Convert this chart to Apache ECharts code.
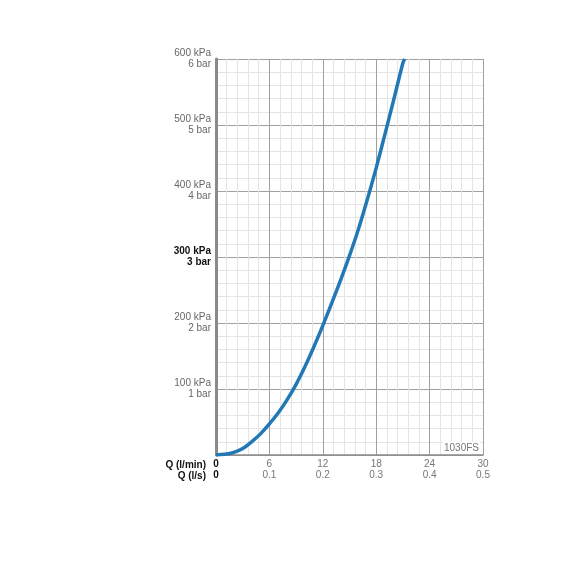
<!DOCTYPE html>
<html>
<head>
<meta charset="utf-8">
<script src="https://cdn.jsdelivr.net/npm/echarts@6/dist/echarts.min.js"></script>
<style>
  html, body { margin: 0; padding: 0; background: #fff; }
  #main { width: 575px; height: 575px; }
</style>
</head>
<body>
<div id="main"></div>
<script>
  // flow rate Q (l/min) vs pressure (kPa)
  var flowLmin = [0, 1, 2, 3, 4, 5, 6, 7, 8, 9, 10, 11, 12, 13, 14, 15, 16, 17, 18, 19, 20, 21, 21.2]
  var pressureKpa = [0, 1, 4, 10, 20, 32, 47, 64, 84, 107, 134, 164, 196, 230, 265, 302, 342, 387, 435, 487, 540, 594, 600]
  var xTicks = [0, 6, 12, 18, 24, 30]
  var xTicksLs = ['0', '0.1', '0.2', '0.3', '0.4', '0.5']
  var yTicks = [100, 200, 300, 400, 500, 600]
  var modelName = '1030FS'

  var font = 'Liberation Sans, Arial, sans-serif'
  var chart = echarts.init(document.getElementById('main'))

  var option = {
    animation: false,
    textStyle: { fontFamily: font },
    grid: { left: 216, right: 92, top: 59, bottom: 120 },
    xAxis: {
      type: 'value',
      min: 0,
      max: 30,
      interval: 6,
      axisLine: { show: true, lineStyle: { color: '#8a8a8a', width: 1.5 } },
      axisTick: { show: false },
      splitLine: { show: true, lineStyle: { color: '#a0a0a0', width: 1 } },
      minorTick: { show: false, splitNumber: 5 },
      minorSplitLine: { show: true, lineStyle: { color: '#e4e4e4', width: 1 } },
      axisLabel: {
        margin: 4,
        fontSize: 10,
        lineHeight: 11,
        color: '#777',
        formatter: function (v) {
          var i = xTicks.indexOf(v)
          if (i < 0) return ''
          if (v === 0) return '{b|0}\n{b|0}'
          return xTicks[i] + '\n' + xTicksLs[i]
        },
        rich: {
          b: { fontWeight: 'bold', color: '#111', fontSize: 10, lineHeight: 11 }
        }
      }
    },
    yAxis: {
      type: 'value',
      min: 0,
      max: 600,
      interval: 100,
      axisLine: { show: true, lineStyle: { color: '#8a8a8a', width: 3 } },
      axisTick: { show: false },
      splitLine: { show: true, lineStyle: { color: '#a0a0a0', width: 1 } },
      minorTick: { show: false, splitNumber: 5 },
      minorSplitLine: { show: true, lineStyle: { color: '#e4e4e4', width: 1 } },
      axisLabel: {
        margin: 5,
        fontSize: 10,
        lineHeight: 11,
        color: '#666',
        align: 'right',
        formatter: function (v) {
          if (yTicks.indexOf(v) < 0) return ''
          if (v === 300) return '{b|300 kPa}\n{b|3 bar}'
          return v + ' kPa\n' + (v / 100) + ' bar'
        },
        rich: {
          b: { fontWeight: 'bold', color: '#111', fontSize: 10, lineHeight: 11 }
        }
      }
    },
    graphic: [
      {
        type: 'text',
        right: 369,
        top: 460,
        style: { text: 'Q (l/min)', font: 'bold 10px ' + font, fill: '#111', textAlign: 'right' }
      },
      {
        type: 'text',
        right: 369,
        top: 471,
        style: { text: 'Q (l/s)', font: 'bold 10px ' + font, fill: '#111', textAlign: 'right' }
      },
      {
        type: 'text',
        right: 95,
        top: 442,
        z: 10,
        style: {
          text: modelName, font: '10px ' + font, fill: '#777',
          backgroundColor: '#fff', padding: [1, 1, 1, 1]
        }
      }
    ],
    series: [
      {
        type: 'line',
        smooth: 0.3,
        showSymbol: false,
        clip: true,
        lineStyle: { color: '#2278b5', width: 3.5 },
        data: flowLmin.map(function (q, i) { return [q, pressureKpa[i]] })
      }
    ]
  }

  chart.setOption(option)
</script>
</body>
</html>
